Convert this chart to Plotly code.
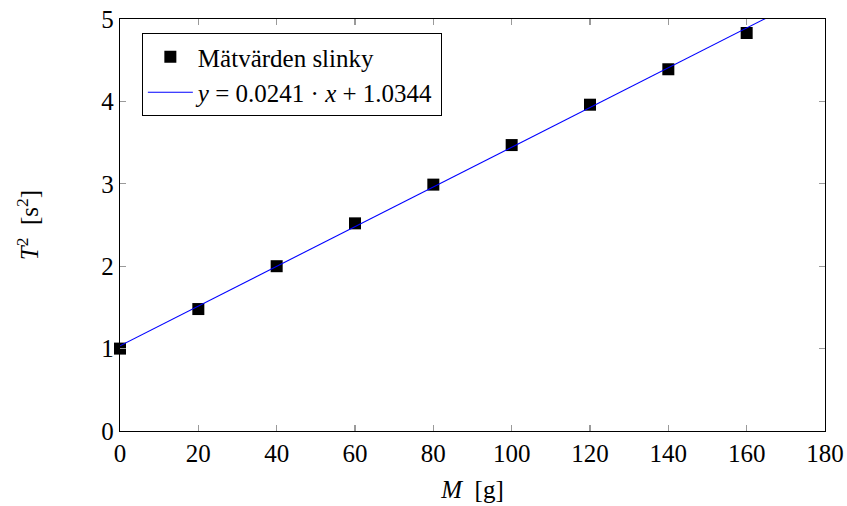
import plotly.graph_objects as go

mass_g = [0, 20, 40, 60, 80, 100, 120, 140, 160]
period_sq = [1.00, 1.48, 2.00, 2.52, 2.99, 3.47, 3.96, 4.39, 4.83]
fit_slope = 0.0241
fit_intercept = 1.0344
fit_x = [0, 180]
x_ticks = [0, 20, 40, 60, 80, 100, 120, 140, 160, 180]
y_ticks = [0, 1, 2, 3, 4, 5]

FONT = "'Liberation Serif', 'Times New Roman', 'DejaVu Serif', serif"
FS = 25

fig = go.Figure()
fig.add_trace(go.Scatter(
    x=mass_g, y=period_sq, mode="markers",
    marker=dict(symbol="square", size=12, color="black"),
    name="Mätvärden slinky", cliponaxis=False,
))
fig.add_trace(go.Scatter(
    x=fit_x, y=[fit_slope * v + fit_intercept for v in fit_x], mode="lines",
    line=dict(color="blue", width=1.1),
    name="<i>y</i> = 0.0241 · <i>x</i> + 1.0344",
))

axis_common = dict(
    showline=True, linecolor="black", linewidth=1.3, mirror="ticks",
    ticks="inside", ticklen=6, tickcolor="#9a9a9a", tickwidth=1.2,
    showgrid=False, zeroline=False, automargin=False,
    ticklabeloverflow="allow",
    tickfont=dict(family=FONT, size=FS, color="black"),
)

fig.update_layout(
    width=847, height=506,
    margin=dict(l=120, r=22, t=19, b=75, autoexpand=False),
    paper_bgcolor="white", plot_bgcolor="white",
    font=dict(family=FONT, size=FS, color="black"),
    xaxis=dict(range=[0, 180], tickvals=x_ticks,
               title=dict(text="<i>M</i>  [g]", font=dict(family=FONT, size=FS), standoff=14),
               **axis_common),
    yaxis=dict(range=[0, 5], tickvals=y_ticks,
               title=dict(text="<i>T</i><sup>2</sup>  [s<sup>2</sup>]", font=dict(family=FONT, size=FS), standoff=55),
               **axis_common),
    legend=dict(x=0.031, y=0.966, xanchor="left", yanchor="top",
                bordercolor="black", borderwidth=1, bgcolor="white",
                font=dict(family=FONT, size=FS), tracegroupgap=0,
                itemwidth=45),
    showlegend=True,
)

fig.write_html(
    "out.html",
    config={"displayModeBar": False, "staticPlot": True},
    post_script="document.body.style.margin='0';document.body.style.overflow='hidden';",
)
